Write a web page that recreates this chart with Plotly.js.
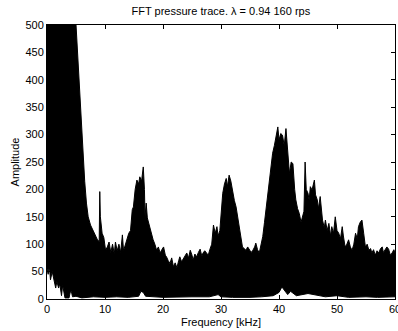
<!DOCTYPE html>
<html>
<head>
<meta charset="utf-8">
<script src="https://cdn.plot.ly/plotly-3.0.1.min.js"></script>
<style>html,body{margin:0;padding:0;background:#fff;overflow:hidden;}#chart{width:398px;height:331px;}</style>
</head>
<body>
<div id="chart"></div>
<script>
// Upper envelope of the FFT amplitude (kHz, amplitude)
const freqUpper = [0,4.5,4.9,5.0,5.3,5.5,5.8,6.1,6.3,6.5,6.8,7.1,7.5,8.1,8.7,9.0,9.1,9.2,9.5,9.8,10.1,10.4,10.7,11.0,11.3,11.6,11.8,12.1,12.4,12.7,13.0,13.2,13.4,13.7,14.1,14.4,14.7,14.9,15.2,15.5,15.8,16.0,16.3,16.6,16.8,16.9,17.1,17.3,17.6,17.8,18.0,18.3,18.6,18.9,19.2,19.5,19.8,20.1,20.4,20.6,20.9,21.2,21.5,21.8,22.1,22.4,22.7,22.9,23.2,23.5,23.8,24.1,24.4,24.7,25.0,25.2,25.5,25.8,26.1,26.4,26.7,26.9,27.2,27.5,27.8,28.1,28.4,28.7,29.0,29.3,29.5,29.8,30.0,30.3,30.6,30.9,31.1,31.4,31.7,32.0,32.3,32.6,32.9,33.2,33.5,33.7,34.0,34.3,34.6,34.9,35.2,35.5,35.8,36.0,36.3,36.6,36.9,37.2,37.5,37.8,38.0,38.3,38.6,38.9,39.2,39.5,39.8,40.0,40.3,40.6,40.9,41.2,41.5,41.8,42.1,42.4,42.7,42.9,43.2,43.5,43.8,44.1,44.3,44.5,44.7,45.0,45.2,45.4,45.7,46.1,46.3,46.6,46.8,47.1,47.3,47.5,47.8,48.0,48.3,48.6,48.9,49.1,49.4,49.7,50.0,50.3,50.6,50.9,51.1,51.4,51.7,52.0,52.3,52.6,52.9,53.2,53.5,53.7,54.0,54.3,54.6,54.9,55.2,55.5,55.8,56.0,56.3,56.6,56.9,57.2,57.5,57.8,58.0,58.3,58.6,58.9,59.2,59.5,59.8,60];
const ampUpper = [620,620,520,500,450,400,340,300,250,215,175,150,135,120,108,105,196,150,120,112,89,95,104,85,100,82,104,88,100,85,117,88,95,110,120,125,163,168,200,217,210,223,215,241,200,150,175,148,135,126,120,108,100,89,95,84,90,95,80,77,70,65,75,59,66,57,70,77,68,74,80,84,75,89,80,71,82,77,85,91,78,84,88,84,80,91,100,135,120,132,115,125,160,193,210,220,205,226,215,193,180,168,150,126,108,95,92,89,95,91,85,89,95,102,90,84,100,114,140,168,190,217,240,266,280,296,314,290,302,299,280,311,270,229,250,247,200,181,165,156,140,150,160,250,200,193,180,205,199,217,190,181,165,187,160,144,130,144,125,138,115,132,120,150,125,120,110,132,115,95,100,108,95,89,100,120,110,132,140,144,120,95,100,89,92,84,90,80,88,84,92,95,85,89,95,91,80,84,90,85];
// Lower envelope of the FFT amplitude
const freqLower = [0,0.2,0.4,0.6,0.9,1.2,1.5,1.7,2.0,2.2,2.5,2.7,2.9,3.1,3.8,4.0,4.2,4.4,5,6,8,10,12,14,15.8,16.2,16.6,17.0,20,25,28,29.5,30,32,35,37,39,40,40.5,41,41.5,42,43,45,46,48,50,52,55,57,60];
const ampLower = [55,45,60,35,50,38,20,32,20,28,6,25,15,2,2,12,14,4,5,2,4,3,4,3,5,14,12,5,3,4,4,8,4,3,3,4,6,12,22,15,8,14,6,10,8,4,6,3,4,3,4];

const xTicks = [0,10,20,30,40,50,60];
const yTicks = [0,50,100,150,200,250,300,350,400,450,500];

const polyX = freqUpper.concat(freqLower.slice().reverse());
const polyY = ampUpper.concat(ampLower.slice().reverse());

const trace = {
  x: polyX, y: polyY, type: 'scatter', mode: 'lines',
  fill: 'toself', fillcolor: '#000000',
  line: {color: '#000000', width: 1},
  hoverinfo: 'skip'
};

const fontFam = '"Liberation Sans", Arial, Helvetica, sans-serif';
const layout = {
  width: 398, height: 331,
  margin: {l: 47, r: 3, t: 25, b: 32, pad: 0},
  paper_bgcolor: '#ffffff', plot_bgcolor: '#ffffff',
  showlegend: false,
  font: {family: fontFam, size: 11, color: '#000'},
  title: {text: 'FFT pressure trace. λ = 0.94 160 rps', x: 0.555, xanchor: 'center', y: 0.967, yanchor: 'middle', font: {family: fontFam, size: 11, color: '#000'}},
  xaxis: {
    range: [0, 60], tickvals: xTicks, ticktext: xTicks.map(String),
    ticks: 'inside', ticklen: 4, tickcolor: '#000', tickwidth: 1,
    showline: true, linecolor: '#000', linewidth: 1, mirror: 'ticks',
    showgrid: false, zeroline: false, ticklabeloverflow: 'allow',
    title: {text: 'Frequency [kHz]', standoff: 4, font: {family: fontFam, size: 11, color: '#000'}},
    tickfont: {family: fontFam, size: 11, color: '#000'}
  },
  yaxis: {
    range: [0, 500], tickvals: yTicks, ticktext: yTicks.map(String),
    ticks: 'inside', ticklen: 4, tickcolor: '#000', tickwidth: 1,
    showline: true, linecolor: '#000', linewidth: 1, mirror: 'ticks',
    showgrid: false, zeroline: false,
    title: {text: 'Amplitude', standoff: 3, font: {family: fontFam, size: 11, color: '#000'}},
    tickfont: {family: fontFam, size: 11, color: '#000'}
  }
};

Plotly.newPlot('chart', [trace], layout, {staticPlot: true, displayModeBar: false});
</script>
</body>
</html>
